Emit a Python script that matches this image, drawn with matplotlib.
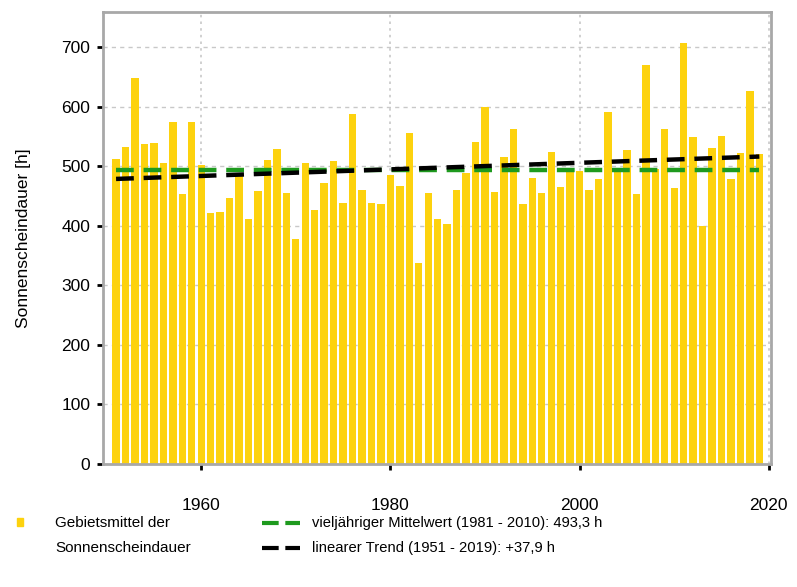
import numpy as np
import matplotlib
matplotlib.use("Agg")
from matplotlib import pyplot as plt
from matplotlib.lines import Line2D
from matplotlib.patches import Rectangle

plt.rcParams['font.family'] = ['Liberation Sans', 'DejaVu Sans']

years = list(range(1951, 2020))
sunshine = [513, 533, 649, 537, 539, 506, 574, 454, 574, 502,
            422, 423, 447, 485, 411, 459, 511, 530, 456, 378,
            505, 426, 472, 509, 439, 588, 460, 438, 436, 485,
            467, 556, 337, 455, 411, 403, 461, 489, 541, 599,
            457, 516, 562, 436, 480, 456, 524, 465, 490, 492,
            460, 478, 592, 495, 527, 453, 671, 495, 562, 464,
            707, 550, 400, 531, 551, 478, 523, 627, 520]
mean_value = 493.3
legend_bar = "Gebietsmittel der\nSonnenscheindauer"
legend_mean = "vieljähriger Mittelwert (1981 - 2010): 493,3 h"
legend_trend = "linearer Trend (1951 - 2019): +37,9 h"

yellow = '#FDD20E'
green = '#1E9A1E'
spine_gray = '#A8A8A8'

fig = plt.figure(figsize=(7.97, 5.87), dpi=100)
ax = fig.add_axes([0.129, 0.21, 0.838, 0.77])

x = np.array(years)
y = np.array(sunshine)
ax.bar(x, y, width=0.78, color=yellow, zorder=2)

# mean line and linear trend
ax.plot([x[0], x[-1]], [mean_value, mean_value], color=green, lw=3.2,
        dashes=(4, 2.2), zorder=3)
k, d = np.polyfit(x, y, 1)
ax.plot(x, k * x + d, color='black', lw=3.2, dashes=(4, 2.2), zorder=4)

ax.set_xlim(1949.6, 2020.2)
ax.set_ylim(0, 760)
ax.set_xticks([1960, 1980, 2000, 2020])
ax.set_yticks(range(0, 701, 100))
ax.yaxis.grid(True, color='#C8C8C8', ls=(0, (3, 3)), lw=1, zorder=0)
ax.xaxis.grid(True, color='#C8C8C8', ls=(0, (1.5, 2.5)), lw=1.2, zorder=0)
ax.set_axisbelow(True)
for s in ax.spines.values():
    s.set_color(spine_gray)
    s.set_linewidth(2)
ax.tick_params(axis='x', length=4, width=2, color='black', pad=21, labelsize=12.5)
ax.tick_params(axis='y', length=4, width=2, color='black', pad=5, labelsize=12.5)
ax.set_ylabel("Sonnenscheindauer [h]", fontsize=12.5, labelpad=22)

# legend, drawn in figure coordinates
fig.patches.append(Rectangle((0.021, 0.104), 0.008, 0.013, color=yellow,
                             transform=fig.transFigure, figure=fig))
for i, line in enumerate(legend_bar.split("\n")):
    fig.text(0.069, 0.109 - i * 0.043, line, fontsize=11, va='center', ha='left')
fig.lines.append(Line2D([0.329, 0.377], [0.109, 0.109], color=green, lw=3,
                        dashes=(4, 1.6), transform=fig.transFigure))
fig.lines.append(Line2D([0.329, 0.377], [0.066, 0.066], color='black', lw=3,
                        dashes=(4, 1.6), transform=fig.transFigure))
fig.text(0.392, 0.109, legend_mean, fontsize=10.6, va='center', ha='left')
fig.text(0.392, 0.066, legend_trend, fontsize=10.6, va='center', ha='left')

fig.savefig("out.png", dpi=100)
